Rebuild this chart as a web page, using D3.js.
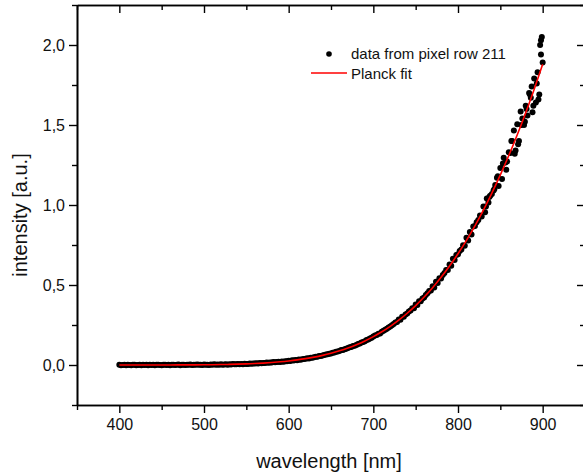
<!DOCTYPE html>
<html>
<head>
<meta charset="utf-8">
<script src="https://cdn.jsdelivr.net/npm/d3@7"></script>
<style>
  html, body { margin: 0; padding: 0; background: #fff; }
  svg { display: block; font-family: "Liberation Sans", Arial, sans-serif; }
</style>
</head>
<body>
<svg id="chart" width="583" height="476"></svg>
<script>
// ---------- data ----------
// measured points: wavelengths 400..898 nm sampled every 2 nm
const dataStart = 400, dataStep = 2;
const dataIntensity = [
  // 400-498
  0.001,-0.002,0.000,0.002,-0.001,0.001,0.000,-0.002,0.002,0.001,
  -0.001,0.000,0.002,-0.001,0.001,0.000,0.002,-0.002,0.001,0.000,
  0.002,-0.001,0.001,0.002,0.000,-0.001,0.002,0.001,0.000,0.002,
  -0.001,0.001,0.002,0.000,0.001,0.003,-0.001,0.001,0.002,0.000,
  0.002,0.001,0.003,0.000,0.002,0.001,0.003,0.001,0.002,0.000,
  // 500-598
  0.003,0.001,0.002,0.000,0.003,0.002,0.004,0.001,0.003,0.002,
  0.004,0.002,0.003,0.005,0.002,0.004,0.003,0.006,0.004,0.005,
  0.007,0.004,0.006,0.005,0.008,0.007,0.006,0.009,0.008,0.010,
  0.009,0.011,0.010,0.012,0.011,0.013,0.012,0.015,0.014,0.016,
  0.015,0.018,0.017,0.019,0.020,0.019,0.022,0.021,0.024,0.023,
  // 600-698
  0.027,0.025,0.029,0.028,0.031,0.030,0.034,0.033,0.036,0.038,
  0.039,0.042,0.041,0.045,0.046,0.048,0.052,0.051,0.056,0.057,
  0.060,0.062,0.066,0.067,0.070,0.072,0.077,0.078,0.083,0.084,
  0.088,0.093,0.094,0.099,0.101,0.106,0.111,0.113,0.119,0.121,
  0.125,0.132,0.135,0.140,0.144,0.149,0.157,0.159,0.166,0.170,
  // 700-798
  0.178,0.184,0.188,0.195,0.197,0.208,0.214,0.221,0.226,0.235,
  0.241,0.249,0.256,0.265,0.268,0.285,0.283,0.302,0.301,0.316,
  0.322,0.334,0.340,0.355,0.355,0.378,0.375,0.399,0.398,0.416,
  0.422,0.437,0.448,0.463,0.466,0.492,0.484,0.520,0.513,0.542,
  0.540,0.562,0.575,0.594,0.593,0.628,0.620,0.664,0.656,0.688,
  // 800-898
  0.692,0.712,0.722,0.748,0.745,0.795,0.778,0.832,0.815,0.865,
  0.868,0.892,0.906,0.935,0.928,0.990,0.955,1.040,1.015,1.058,
  1.068,1.090,1.125,1.170,1.118,1.232,1.162,1.295,1.265,1.272,
  1.330,1.325,1.400,1.465,1.340,1.505,1.400,1.585,1.540,1.500,
  1.620,1.560,1.700,1.670,1.580,1.790,1.640,1.830,1.690,2.030
];
// additional scattered points at the red end
const extraWavelength = [897, 898, 899, 900, 889, 893, 879, 885, 871, 875, 863, 867, 857, 853, 847, 843, 837, 833, 881, 887, 895];
const extraIntensity  = [2.000, 1.940, 2.050, 1.890, 1.620, 1.760, 1.520, 1.690, 1.380, 1.500, 1.400, 1.320, 1.220, 1.260, 1.180, 1.100, 1.050, 0.990, 1.600, 1.740, 1.660];

// Planck fit curve, read every 10 nm
const fitStart = 400, fitStep = 10;
const fitIntensity = [
  0.000,0.000,0.000,0.000,0.0001,0.0002,0.0003,0.0005,0.0007,0.0010,
  0.0014,0.0020,0.0028,0.0038,0.0052,0.0070,0.0092,0.0120,0.0156,0.0200,
  0.0254,0.0319,0.0397,0.0491,0.0602,0.0733,0.0886,0.1063,0.1268,0.1503,
  0.1771,0.2075,0.2418,0.2803,0.3234,0.3714,0.4246,0.4833,0.5478,0.6184,
  0.6955,0.779,0.870,0.968,1.074,1.188,1.309,1.439,1.577,1.724,1.880
];

// axes
const xMajorTicks = [400, 500, 600, 700, 800, 900];
const xTickLabels = ["400", "500", "600", "700", "800", "900"];
const xMinorTicks = [350, 450, 550, 650, 750, 850, 950];
const yMajorTicks = [0, 0.5, 1.0, 1.5, 2.0];
const yTickLabels = ["0,0", "0,5", "1,0", "1,5", "2,0"];
const yMinorTicks = [-0.25, 0.25, 0.75, 1.25, 1.75, 2.25];
const legendLabels = ["data from pixel row 211", "Planck fit"];
const xTitle = "wavelength [nm]";
const yTitle = "intensity [a.u.]";

// ---------- drawing ----------
const svg = d3.select("#chart");
const L = 77, R = 585, T = 5, B = 405;
const x = d3.scaleLinear().domain([350, 950]).range([L, R]);
const y = d3.scaleLinear().domain([-0.25, 2.25]).range([B, T]);

const points = dataIntensity.map((v, i) => ({ w: dataStart + i * dataStep, v }))
  .concat(extraIntensity.map((v, i) => ({ w: extraWavelength[i], v })));
const fit = fitIntensity.map((v, i) => ({ w: fitStart + i * fitStep, v }));

// data dots
svg.append("g").selectAll("circle").data(points).join("circle")
  .attr("cx", d => x(d.w)).attr("cy", d => y(d.v)).attr("r", 3).attr("fill", "#000");

// fit line
svg.append("path").datum(fit)
  .attr("fill", "none").attr("stroke", "#ff0000").attr("stroke-width", 1.6)
  .attr("d", d3.line().x(d => x(d.w)).y(d => y(d.v)).curve(d3.curveMonotoneX));

// axes helper
function styleAxis(g) {
  g.selectAll("path.domain").attr("stroke", "#000").attr("stroke-width", 1.6);
  g.selectAll(".tick line").attr("stroke", "#000").attr("stroke-width", 1.4);
  g.selectAll(".tick text").attr("fill", "#111").style("font-size", "16px")
    .style("font-family", "'Liberation Sans', Arial, sans-serif");
}

// bottom axis
const gb = svg.append("g").attr("transform", `translate(0,${B})`)
  .call(d3.axisBottom(x).tickValues(xMajorTicks).tickSize(8).tickPadding(6)
    .tickFormat((d, i) => xTickLabels[i]).tickSizeOuter(0));
styleAxis(gb);
const gbm = svg.append("g").attr("transform", `translate(0,${B})`)
  .call(d3.axisBottom(x).tickValues(xMinorTicks).tickSize(5).tickFormat("").tickSizeOuter(0));
styleAxis(gbm);

// top axis (inward ticks)
const gt = svg.append("g").attr("transform", `translate(0,${T})`)
  .call(d3.axisBottom(x).tickValues(xMajorTicks).tickSize(8).tickFormat("").tickSizeOuter(0));
styleAxis(gt);
const gtm = svg.append("g").attr("transform", `translate(0,${T})`)
  .call(d3.axisBottom(x).tickValues(xMinorTicks).tickSize(5).tickFormat("").tickSizeOuter(0));
styleAxis(gtm);

// left axis
const gl = svg.append("g").attr("transform", `translate(${L},0)`)
  .call(d3.axisLeft(y).tickValues(yMajorTicks).tickSize(8).tickPadding(4)
    .tickFormat((d, i) => yTickLabels[i]).tickSizeOuter(0));
styleAxis(gl);
const glm = svg.append("g").attr("transform", `translate(${L},0)`)
  .call(d3.axisLeft(y).tickValues(yMinorTicks).tickSize(5).tickFormat("").tickSizeOuter(0));
styleAxis(glm);

// right axis (inward ticks)
const gr = svg.append("g").attr("transform", `translate(${R},0)`)
  .call(d3.axisLeft(y).tickValues(yMajorTicks).tickSize(8).tickFormat("").tickSizeOuter(0));
styleAxis(gr);
const grm = svg.append("g").attr("transform", `translate(${R},0)`)
  .call(d3.axisLeft(y).tickValues(yMinorTicks).tickSize(5).tickFormat("").tickSizeOuter(0));
styleAxis(grm);

// axis titles
svg.append("text").attr("x", (L + R) / 2 - 2).attr("y", 468).attr("text-anchor", "middle")
  .style("font-size", "20px").attr("fill", "#111").text(xTitle);
svg.append("text").attr("transform", `translate(27,${(T + B) / 2 + 10}) rotate(-90)`)
  .attr("text-anchor", "middle").style("font-size", "20px").attr("fill", "#111").text(yTitle);

// legend
const lg = svg.append("g");
lg.append("circle").attr("cx", 329).attr("cy", 54).attr("r", 2.8).attr("fill", "#000");
lg.append("text").attr("x", 351).attr("y", 59).style("font-size", "15px").attr("fill", "#111").text(legendLabels[0]);
lg.append("line").attr("x1", 311).attr("x2", 347).attr("y1", 73).attr("y2", 73)
  .attr("stroke", "#ff0000").attr("stroke-width", 1.6);
lg.append("text").attr("x", 351).attr("y", 79).style("font-size", "15px").attr("fill", "#111").text(legendLabels[1]);
</script>
</body>
</html>
